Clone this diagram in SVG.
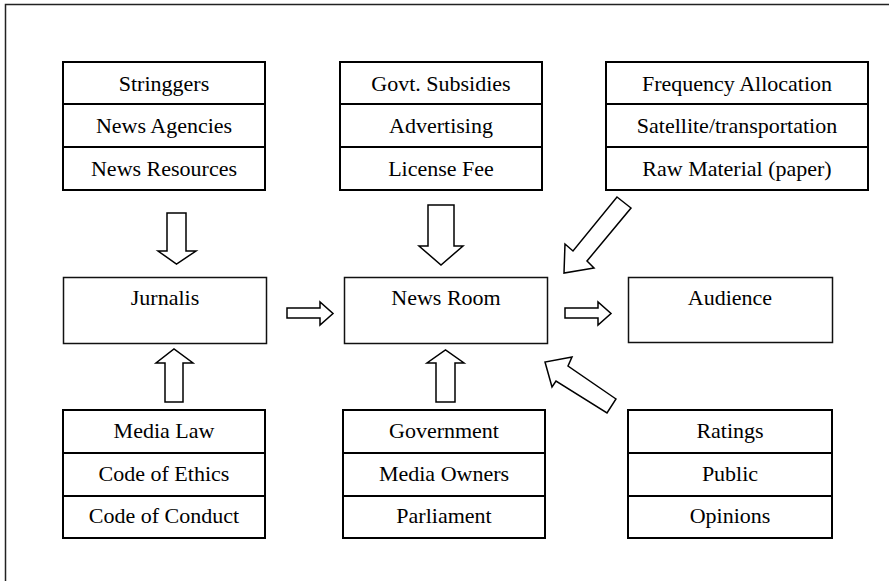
<svg xmlns="http://www.w3.org/2000/svg" width="889" height="581" viewBox="0 0 889 581">
<style>
.frame{fill:none;stroke:#222;stroke-width:1.5}
.box{fill:#fff;stroke:#000;stroke-width:2}
.div{stroke:#000;stroke-width:2}
.sbox{fill:#fff;stroke:#111;stroke-width:1.5}
.arr{fill:#fff;stroke:#000;stroke-width:1.5;stroke-linejoin:miter}
.t{font-family:'Liberation Serif','Times New Roman','DejaVu Serif',serif;font-size:22px;fill:#000;text-anchor:middle}
</style>
<rect width="889" height="581" fill="#fff"/>
<rect class="frame" x="5.5" y="4.5" width="900" height="600"/>

<g id="sources">
<rect class="box" x="63" y="62" width="202" height="128"/>
<line class="div" x1="63" y1="104" x2="265" y2="104"/>
<line class="div" x1="63" y1="147" x2="265" y2="147"/>
<text class="t" x="164" y="91">Stringgers</text>
<text class="t" x="164" y="133">News Agencies</text>
<text class="t" x="164" y="176">News Resources</text>
</g>

<g id="funding">
<rect class="box" x="340" y="62" width="202" height="128"/>
<line class="div" x1="340" y1="104" x2="542" y2="104"/>
<line class="div" x1="340" y1="147" x2="542" y2="147"/>
<text class="t" x="441" y="91">Govt. Subsidies</text>
<text class="t" x="441" y="133">Advertising</text>
<text class="t" x="441" y="176">License Fee</text>
</g>

<g id="infrastructure">
<rect class="box" x="606" y="62" width="262" height="128"/>
<line class="div" x1="606" y1="104" x2="868" y2="104"/>
<line class="div" x1="606" y1="147" x2="868" y2="147"/>
<text class="t" x="737" y="91">Frequency Allocation</text>
<text class="t" x="737" y="133">Satellite/transportation</text>
<text class="t" x="737" y="176">Raw Material (paper)</text>
</g>

<g id="jurnalis">
<rect class="sbox" x="63.5" y="277.5" width="203" height="66"/>
<text class="t" x="165" y="305">Jurnalis</text>
</g>

<g id="newsroom">
<rect class="sbox" x="344.5" y="277.5" width="203" height="66"/>
<text class="t" x="446" y="305">News Room</text>
</g>

<g id="audience">
<rect class="sbox" x="628.5" y="277.5" width="204" height="65"/>
<text class="t" x="730" y="305">Audience</text>
</g>

<g id="regulation">
<rect class="box" x="63" y="410" width="202" height="128"/>
<line class="div" x1="63" y1="453" x2="265" y2="453"/>
<line class="div" x1="63" y1="496" x2="265" y2="496"/>
<text class="t" x="164" y="438">Media Law</text>
<text class="t" x="164" y="481">Code of Ethics</text>
<text class="t" x="164" y="523">Code of Conduct</text>
</g>

<g id="control">
<rect class="box" x="343" y="410" width="202" height="128"/>
<line class="div" x1="343" y1="453" x2="545" y2="453"/>
<line class="div" x1="343" y1="496" x2="545" y2="496"/>
<text class="t" x="444" y="438">Government</text>
<text class="t" x="444" y="481">Media Owners</text>
<text class="t" x="444" y="523">Parliament</text>
</g>

<g id="feedback">
<rect class="box" x="628" y="410" width="204" height="128"/>
<line class="div" x1="628" y1="453" x2="832" y2="453"/>
<line class="div" x1="628" y1="496" x2="832" y2="496"/>
<text class="t" x="730" y="438">Ratings</text>
<text class="t" x="730" y="481">Public</text>
<text class="t" x="730" y="523">Opinions</text>
</g>

<g id="connectors">
<polygon class="arr" points="167,213 186,213 186,251 196,251 176.5,264 158,251 167,251"/>
<polygon class="arr" points="428,205 454,205 454,246 463,246 441,265 419,246 428,246"/>
<polygon class="arr" points="617,197 631,208 587,261 594,268 564,273 565,244 573,251"/>
<polygon class="arr" points="287,308 320,308 320,302 333,313.5 320,325 320,318 287,318"/>
<polygon class="arr" points="565,308 598,308 598,302 611,313.5 598,325 598,318 565,318"/>
<polygon class="arr" points="165,402 183,402 183,363 193,363 174,349 156,363 165,363"/>
<polygon class="arr" points="436,402 455,402 455,363 464,363 445.5,350 427,363 436,363"/>
<polygon class="arr" points="616,399 568,366 572,357 545,362 552,387 556,381 607,413"/>
</g>
</svg>
